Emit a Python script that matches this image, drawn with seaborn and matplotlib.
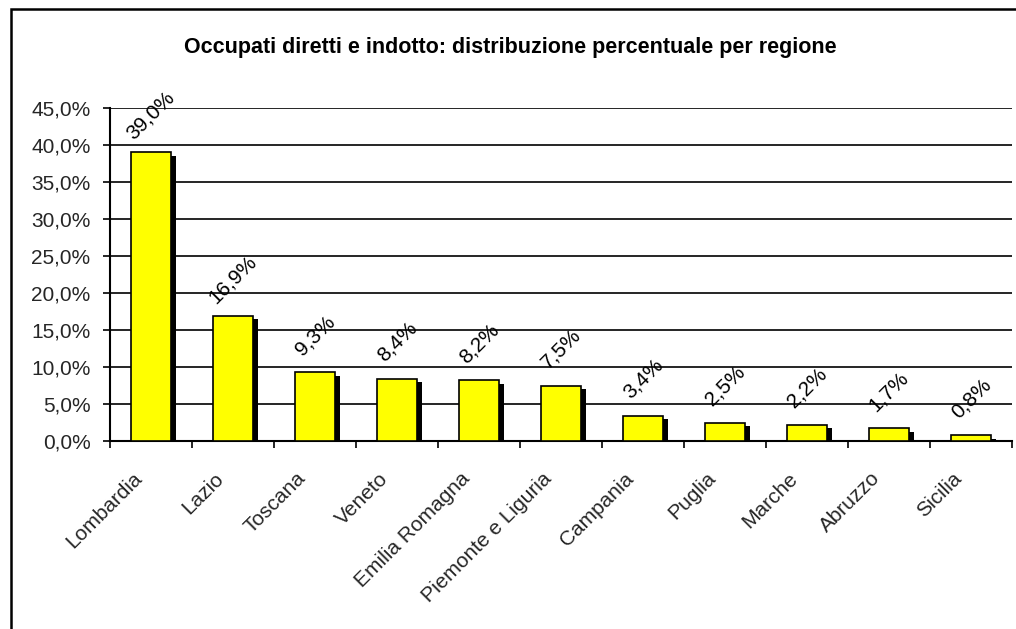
import matplotlib
matplotlib.use("Agg")
import matplotlib.pyplot as plt
import matplotlib.patheffects as pe
import matplotlib.transforms as mtransforms
from matplotlib.patches import Rectangle
from matplotlib.ticker import FuncFormatter, FixedLocator
import seaborn as sns
import pandas as pd

regions = ["Lombardia", "Lazio", "Toscana", "Veneto", "Emilia Romagna",
           "Piemonte e Liguria", "Campania", "Puglia", "Marche", "Abruzzo", "Sicilia"]
values = [39.0, 16.9, 9.3, 8.4, 8.2, 7.5, 3.4, 2.5, 2.2, 1.7, 0.8]
title = "Occupati diretti e indotto: distribuzione percentuale per regione"

sns.set_theme(style="white")
plt.rcParams['font.family'] = ['Liberation Sans', 'DejaVu Sans']

df = pd.DataFrame({"regione": regions, "valore": values})

FS = 15

fig = plt.figure(figsize=(10.16, 6.29), dpi=100)
ax = fig.add_axes([110/1016, 1-441/629, (1012-110)/1016, (441-108)/629])

sns.barplot(data=df, x="regione", y="valore", color="#FFFF00", saturation=1,
            edgecolor="black", linewidth=1.2, width=0.49, ax=ax, zorder=3)
for p in ax.patches:
    p.set_path_effects([pe.SimplePatchShadow(offset=(3.5, -2.5), shadow_rgbFace="black", alpha=1.0),
                        pe.Normal()])

ax.set_ylim(0, 45)
ax.set_xlim(-0.5, len(regions) - 0.5)
ax.set_yticks(range(0, 50, 5))
ax.yaxis.set_major_formatter(FuncFormatter(lambda v, _: f"{v:.1f}%".replace(".", ",")))
ax.grid(axis="y", color="black", linewidth=1.2, zorder=0)
ax.set_axisbelow(True)
ax.set_xlabel("")
ax.set_ylabel("")

ax.set_xticks(range(len(regions)))
ax.set_xticklabels(regions, rotation=45, ha="right", va="top", rotation_mode="anchor", fontsize=FS)
ax.tick_params(axis="x", which="major", length=0, pad=20)
ax.xaxis.set_minor_locator(FixedLocator([i - 0.5 for i in range(len(regions) + 1)]))
ax.tick_params(axis="x", which="minor", length=5, width=1.2, color="black", direction="out")
ax.tick_params(axis="y", length=5, width=1.2, color="black", direction="out", labelsize=FS, pad=9)
ax.tick_params(axis="both", bottom=True, left=True)
ax.xaxis.set_tick_params(which="minor", bottom=True)

shift = mtransforms.ScaledTranslation(-19/100, 0, fig.dpi_scale_trans)
for lbl in ax.get_xticklabels():
    lbl.set_transform(lbl.get_transform() + shift)

for s in ["top", "right"]:
    ax.spines[s].set_visible(False)
for s in ["left", "bottom"]:
    ax.spines[s].set_color("black")
    ax.spines[s].set_linewidth(1.5)

for i, v in enumerate(values):
    ax.annotate(f"{v:.1f}%".replace(".", ","), xy=(i, v), xytext=(0, 26.5),
                textcoords="offset points", ha="center", va="center",
                rotation=45, fontsize=FS, color="black")

fig.text(510/1016, 1-47/629, title, ha="center", va="center",
         fontsize=15.5, fontweight="bold", color="black")

top = 1 - 9/629
fig.patches.append(Rectangle((11/1016, -0.2), 1.5, top + 0.2,
                             transform=fig.transFigure, fill=False,
                             edgecolor="black", linewidth=1.8, figure=fig))

fig.savefig("out.png", dpi=100, facecolor="white")
